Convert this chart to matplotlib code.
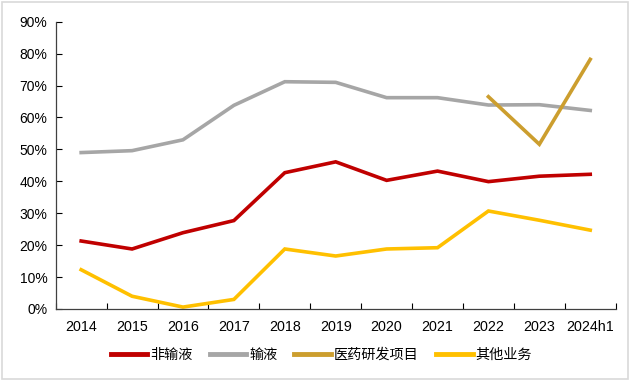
import matplotlib
matplotlib.use("Agg")
import matplotlib.pyplot as plt
from matplotlib.patches import Rectangle
import numpy as np

categories = ["2014", "2015", "2016", "2017", "2018", "2019", "2020", "2021", "2022", "2023", "2024h1"]
non_infusion = [21.3, 18.8, 23.9, 27.7, 42.7, 46.1, 40.3, 43.2, 39.9, 41.6, 42.2]
infusion = [49.0, 49.6, 53.0, 63.8, 71.2, 71.0, 66.2, 66.2, 63.9, 64.0, 62.2]
rd_projects = [None] * 8 + [66.5, 51.6, 78.2]
other = [12.3, 4.0, 0.6, 3.0, 18.8, 16.6, 18.8, 19.2, 30.7, 27.8, 24.7]

series_names = ["非输液", "输液", "医药研发项目", "其他业务"]
colors = ["#C00000", "#A6A6A6", "#CC9E2E", "#FFC000"]

plt.rcParams['font.family'] = ['Liberation Sans', 'Noto Sans CJK SC', 'DejaVu Sans']

fig = plt.figure(figsize=(6.3, 3.81), dpi=100)
ax = fig.add_axes([55.7/630, 1-309/381, (615.7-55.7)/630, (309-21.7)/381])

x = np.arange(len(categories))
data = [non_infusion, infusion, rd_projects, other]
for vals, c, name in zip(data, colors, series_names):
    y = np.array([np.nan if v is None else v for v in vals], dtype=float)
    ax.plot(x, y, color=c, lw=2.6, label=name, solid_joinstyle='miter')

ax.set_xlim(-0.5, len(categories) - 0.5)
ax.set_ylim(0, 90)
ax.set_yticks(np.arange(0, 91, 10))
ax.set_yticklabels([f"{v}%" for v in range(0, 91, 10)], fontsize=10)
ax.set_xticks(x)
ax.set_xticklabels(categories, fontsize=10.3)
ax.set_xticks(np.arange(-0.5, len(categories), 1), minor=True)
ax.tick_params(axis='x', which='major', length=0, pad=8)
ax.tick_params(axis='x', which='minor', direction='in', length=4, width=0.8)
ax.tick_params(axis='y', direction='in', length=4, width=0.8, pad=6)
for s in ['top', 'right']:
    ax.spines[s].set_visible(False)
for s in ['left', 'bottom']:
    ax.spines[s].set_color('#404040')
    ax.spines[s].set_linewidth(0.9)

leg = fig.legend(loc='center', bbox_to_anchor=(0.51, 1-355/381), ncol=4, frameon=False,
                 handlelength=2.6, handletextpad=0.2, columnspacing=1.2,
                 prop={'family': ['Noto Sans CJK SC', 'DejaVu Sans'], 'size': 10.2})
for line in leg.get_lines():
    line.set_linewidth(3.5)

fig.patches.append(Rectangle((0.003, 0.005), 0.994, 0.99, transform=fig.transFigure,
                             fill=False, edgecolor='#D9D9D9', lw=1.2))

fig.savefig("out.png", dpi=100)
